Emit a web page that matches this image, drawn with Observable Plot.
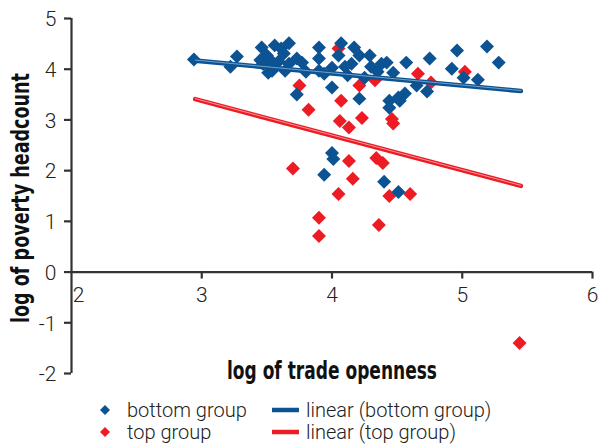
<!DOCTYPE html>
<html>
<head>
<meta charset="utf-8">
<script src="https://cdn.jsdelivr.net/npm/d3@7"></script>
<script src="https://cdn.jsdelivr.net/npm/@observablehq/plot@0.6"></script>
<style>
  html, body { margin: 0; padding: 0; background: #fff; }
  #chart { position: relative; width: 598px; height: 444px; overflow: hidden; }
  #chart svg { display: block; }
</style>
</head>
<body>
<div id="chart"></div>
<script>
// ---- data ----
const bottomX = [2.94,3.22,3.27,3.46,3.50,3.47,3.54,3.59,3.56,3.61,3.64,3.51,3.67,3.63,3.73,3.77,3.67,3.90,3.90,4.07,
  4.05,4.17,4.21,4.29,4.38,4.15,4.00,3.94,4.00,3.73,4.25,4.21,4.44,3.45,4.42,4.47,4.57,4.75,4.96,4.92,
  5.01,5.12,5.19,5.28,4.65,4.73,4.44,4.52,4.56,4.51,4.00,4.01,3.94,4.40,4.51,3.80,3.90,4.10,4.30,4.35,
  4.12,3.52,3.56];
const bottomY = [4.19,4.05,4.25,4.43,4.27,4.11,3.97,4.15,4.47,4.41,3.97,3.93,4.51,4.31,4.21,4.13,4.11,4.43,4.21,4.51,
  4.27,4.43,4.27,4.27,4.11,4.11,4.03,3.91,3.64,3.50,3.83,3.42,3.38,4.18,4.13,3.93,4.13,4.21,4.37,4.01,
  3.83,3.79,4.45,4.13,3.68,3.56,3.24,3.38,3.52,3.44,2.35,2.23,1.92,1.78,1.58,3.95,3.97,4.05,4.05,3.95,
  3.88,4.20,4.05];
const topX = [4.05,3.75,4.21,4.33,4.07,3.82,4.66,4.76,5.02,4.06,4.13,4.23,4.46,4.47,4.34,4.39,4.13,3.70,4.16,4.05,
  4.44,4.60,3.90,4.36,3.90,5.44];
const topY = [4.41,3.68,3.68,3.78,3.38,3.20,3.91,3.74,3.95,2.98,2.85,3.04,3.02,2.93,2.25,2.15,2.19,2.04,1.84,1.54,
  1.50,1.54,1.07,0.93,0.71,-1.40];
const trendBottomX = [2.95, 5.45];
const trendBottomY = [4.17, 3.57];
const trendTopX = [2.95, 5.45];
const trendTopY = [3.41, 1.70];
const xTicks = [2, 3, 4, 5, 6];
const yTicks = [-2, -1, 0, 1, 2, 3, 4, 5];
const xTitle = "log of trade openness";
const yTitle = "log of poverty headcount";
const legendLabels = ["bottom group", "top group", "linear (bottom group)", "linear (top group)"];

// ---- styles ----
const blue = "#0b5392", red = "#ed1c24";
const blueLight = "#7fa6cc", redLight = "#f8a3a6";
const axisColor = "#333333";
const tickFont = "Roboto, 'Liberation Sans', Arial, sans-serif";
const titleFont = "'Liberation Sans Narrow', 'DejaVu Sans Condensed', 'Liberation Sans', sans-serif";

const bottom = bottomX.map((x, i) => ({x, y: bottomY[i]}));
const topG = topX.map((x, i) => ({x, y: topY[i]}));
const tb = trendBottomX.map((x, i) => ({x, y: trendBottomY[i]}));
const tt = trendTopX.map((x, i) => ({x, y: trendTopY[i]}));

const plot = Plot.plot({
  width: 598,
  height: 392,
  marginLeft: 71,
  marginRight: 6,
  marginTop: 18,
  marginBottom: 19,
  x: {domain: [2, 6], axis: null},
  y: {domain: [-2, 5], axis: null},
  style: {background: "#fff", overflow: "visible"},
  marks: [
    // axes
    Plot.ruleX([2], {y1: -2, y2: 5, stroke: axisColor, strokeWidth: 2.2}),
    Plot.ruleY([0], {x1: 2, x2: 6, stroke: axisColor, strokeWidth: 2.2}),
    Plot.ruleY(yTicks, {y: d => d, x1: 2, x2: 2, insetLeft: -7, stroke: axisColor, strokeWidth: 2.2}),
    Plot.ruleX(xTicks.filter(d => d !== 2), {x: d => d, y1: 0, y2: 0, insetBottom: -7, stroke: axisColor, strokeWidth: 2.2}),
    Plot.text(yTicks, {x: 2, y: d => d, text: d => String(d), textAnchor: "end", dx: -15, dy: 1,
      fontSize: 21, fontWeight: 300, fontFamily: tickFont, fill: "#222"}),
    Plot.text(xTicks.filter(d => d !== 2), {x: d => d, y: 0, text: d => String(d), dy: 23,
      fontSize: 21, fontWeight: 300, fontFamily: tickFont, fill: "#222"}),
    Plot.text(xTicks.filter(d => d === 2), {x: d => d, y: 0, text: d => String(d), dx: 7, dy: 23,
      fontSize: 21, fontWeight: 300, fontFamily: tickFont, fill: "#222"}),
    // titles
    Plot.text([xTitle], {frameAnchor: "bottom", textAnchor: "middle", text: d => d, dy: 5, fontSize: 24.5, fontWeight: "bold",
      fontFamily: titleFont, fill: "#111"}),
    Plot.text([yTitle], {frameAnchor: "left", textAnchor: "middle", text: d => d, rotate: -90, dx: -51, dy: 2, fontSize: 25, fontWeight: "bold",
      fontFamily: titleFont, fill: "#111"}),
    // points
    Plot.dot(topG, {x: "x", y: "y", symbol: "diamond2", r: 6.3, fill: red, stroke: "none"}),
    Plot.dot(bottom, {x: "x", y: "y", symbol: "diamond2", r: 6.3, fill: blue, stroke: "none"}),
    // trend lines
    Plot.line(tb, {x: "x", y: "y", stroke: blue, strokeWidth: 4.6}),
    Plot.line(tb, {x: "x", y: "y", stroke: blueLight, strokeWidth: 0.9, dy: -0.5}),
    Plot.line(tt, {x: "x", y: "y", stroke: red, strokeWidth: 4.6}),
    Plot.line(tt, {x: "x", y: "y", stroke: redLight, strokeWidth: 0.9, dy: -0.5})
  ]
});
// condense the bold axis titles to the reference's narrow face
plot.querySelectorAll("text").forEach(t => {
  if (t.textContent === xTitle) { t.setAttribute("textLength", 210); t.setAttribute("lengthAdjust", "spacingAndGlyphs"); }
  if (t.textContent === yTitle) { t.setAttribute("textLength", 250); t.setAttribute("lengthAdjust", "spacingAndGlyphs"); }
});
document.getElementById("chart").appendChild(plot);

// ---- legend (below the plot svg) ----
const leg = d3.select("#chart").append("svg")
  .attr("width", 598).attr("height", 52)
  .style("position", "absolute").style("left", "0px").style("top", "392px");
const rows = [18, 40];
const legendFont = tickFont;
[[blue, 0], [red, 1]].forEach(([c, r]) => {
  const cx = 105, cy = rows[r];
  leg.append("path").attr("d", `M${cx},${cy - 5}L${cx + 5},${cy}L${cx},${cy + 5}L${cx - 5},${cy}Z`).attr("fill", c);
  leg.append("text").attr("x", 127).attr("y", cy + 6.5).text(legendLabels[r])
    .attr("font-family", legendFont).attr("font-weight", 300).attr("font-size", 20).attr("fill", "#222");
  leg.append("line").attr("x1", 272).attr("x2", 299).attr("y1", cy).attr("y2", cy)
    .attr("stroke", c).attr("stroke-width", 4.5);
  leg.append("text").attr("x", 306).attr("y", cy + 6.5).text(legendLabels[r + 2])
    .attr("font-family", legendFont).attr("font-weight", 300).attr("font-size", 20).attr("fill", "#222");
});
</script>
</body>
</html>
